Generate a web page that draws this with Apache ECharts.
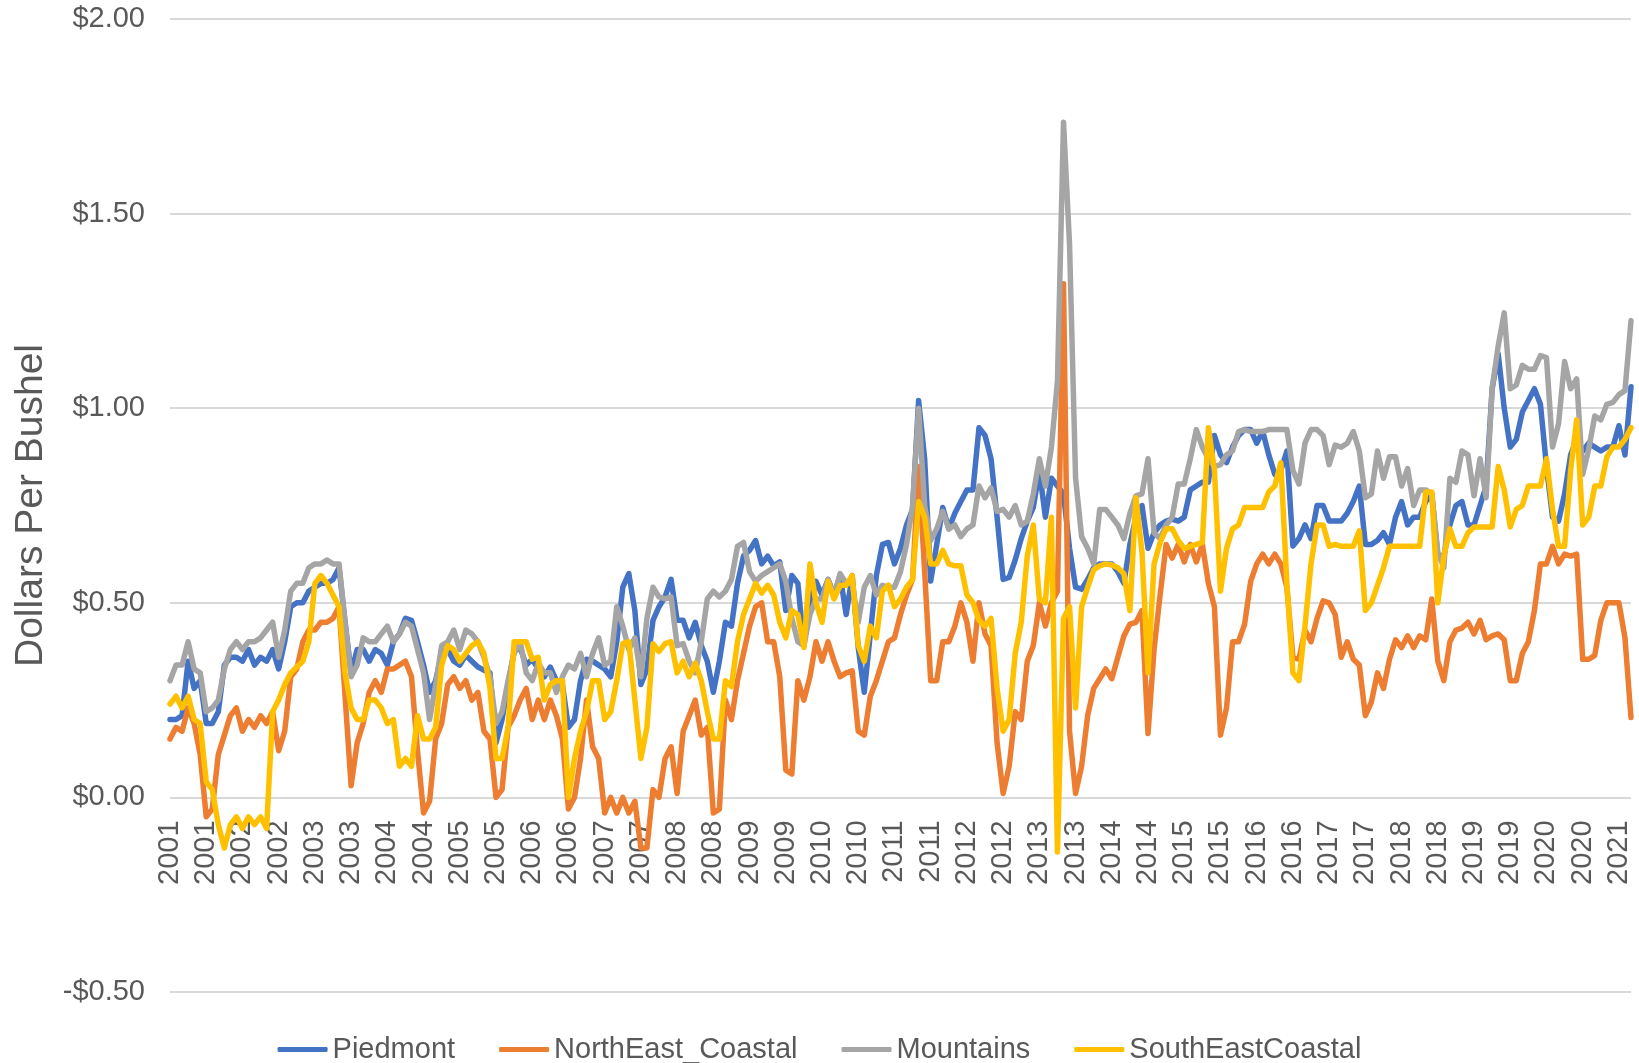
<!DOCTYPE html>
<html>
<head>
<meta charset="utf-8">
<title>Dollars Per Bushel</title>
<script src="https://cdn.jsdelivr.net/npm/echarts@6/dist/echarts.min.js"></script>
<style>
  html, body { margin: 0; padding: 0; background: #fff; }
  #main { width: 1639px; height: 1063px; }
</style>
</head>
<body>
<div id="main"></div>
<script>
// year labels for the category axis (monthly points, one label every 6 months)
const years = ['2001','2002','2003','2004','2005','2006','2007','2008','2009','2010','2011',
  '2012','2013','2014','2015','2016','2017','2018','2019','2020','2021'];

// monthly values, one row per year
const piedmont = [
  0.20,0.20,0.21,0.35,0.28,0.30,0.19,0.19,0.22,0.34,0.36,0.36,
  0.35,0.38,0.34,0.36,0.35,0.38,0.33,0.40,0.49,0.50,0.50,0.53,
  0.54,0.55,0.55,0.56,0.59,0.45,0.32,0.38,0.38,0.35,0.38,0.37,
  0.34,0.40,0.42,0.46,0.455,0.40,0.34,0.27,0.30,0.37,0.38,0.35,
  0.34,0.365,0.35,0.335,0.327,0.32,0.14,0.20,0.29,0.375,0.385,0.34,
  0.355,0.33,0.31,0.335,0.30,0.29,0.18,0.20,0.30,0.355,0.35,0.34,
  0.33,0.31,0.40,0.54,0.575,0.48,0.29,0.33,0.455,0.49,0.515,0.56,
  0.455,0.455,0.41,0.45,0.39,0.35,0.27,0.35,0.45,0.44,0.55,0.62,
  0.635,0.66,0.60,0.62,0.595,0.605,0.48,0.57,0.55,0.39,0.50,0.555,
  0.52,0.56,0.52,0.57,0.47,0.57,0.385,0.27,0.42,0.57,0.65,0.655,
  0.60,0.64,0.70,0.74,1.02,0.87,0.556,0.65,0.745,0.69,0.73,0.76,
  0.79,0.79,0.95,0.93,0.87,0.72,0.56,0.565,0.61,0.665,0.71,0.745,
  0.84,0.72,0.82,0.80,0.78,0.64,0.54,0.535,0.56,0.59,0.60,0.60,
  0.60,0.58,0.55,0.65,0.72,0.75,0.64,0.68,0.70,0.71,0.715,0.71,
  0.72,0.79,0.80,0.81,0.81,0.93,0.88,0.86,0.90,0.93,0.945,0.945,
  0.91,0.94,0.88,0.83,0.84,0.89,0.646,0.665,0.70,0.665,0.75,0.75,
  0.71,0.71,0.71,0.73,0.76,0.80,0.65,0.65,0.66,0.68,0.65,0.72,
  0.76,0.70,0.72,0.72,0.76,0.78,0.62,0.62,0.70,0.75,0.76,0.70,
  0.70,0.75,0.80,1.05,1.14,1.00,0.90,0.92,0.99,1.02,1.05,1.01,
  0.85,0.72,0.71,0.78,0.88,0.92,0.89,0.91,0.90,0.89,0.90,0.90,
  0.955,0.88,1.055
];

const northEastCoastal = [
  0.15,0.18,0.17,0.23,0.19,0.11,-0.05,-0.03,0.11,0.16,0.21,0.23,
  0.17,0.20,0.18,0.21,0.19,0.22,0.12,0.17,0.31,0.33,0.40,0.43,
  0.43,0.45,0.45,0.46,0.49,0.26,0.03,0.14,0.19,0.27,0.30,0.27,
  0.33,0.33,0.34,0.35,0.31,0.12,-0.04,-0.01,0.15,0.19,0.29,0.31,
  0.28,0.30,0.25,0.27,0.17,0.15,0.00,0.02,0.18,0.21,0.25,0.28,
  0.20,0.25,0.20,0.25,0.21,0.15,-0.03,0.00,0.10,0.25,0.13,0.10,
  -0.04,0.00,-0.04,0.00,-0.04,-0.01,-0.13,-0.13,0.02,0.00,0.10,0.13,
  0.01,0.17,0.21,0.25,0.16,0.18,-0.04,-0.03,0.25,0.20,0.30,0.37,
  0.44,0.49,0.50,0.40,0.40,0.31,0.07,0.06,0.30,0.25,0.31,0.40,
  0.35,0.40,0.35,0.31,0.32,0.325,0.17,0.16,0.26,0.30,0.35,0.40,
  0.41,0.47,0.52,0.56,0.85,0.58,0.30,0.30,0.40,0.40,0.44,0.50,
  0.45,0.35,0.50,0.42,0.39,0.14,0.01,0.08,0.22,0.20,0.35,0.39,
  0.50,0.44,0.50,0.53,1.32,0.17,0.01,0.08,0.21,0.28,0.305,0.33,
  0.305,0.36,0.415,0.445,0.45,0.48,0.164,0.38,0.52,0.65,0.615,0.65,
  0.605,0.65,0.605,0.65,0.55,0.49,0.16,0.23,0.40,0.40,0.445,0.555,
  0.60,0.625,0.60,0.625,0.60,0.54,0.36,0.355,0.43,0.40,0.46,0.505,
  0.50,0.47,0.36,0.40,0.355,0.34,0.21,0.245,0.32,0.28,0.355,0.405,
  0.385,0.415,0.385,0.415,0.405,0.51,0.35,0.30,0.40,0.43,0.435,0.45,
  0.42,0.455,0.405,0.415,0.42,0.405,0.30,0.30,0.37,0.40,0.48,0.60,
  0.60,0.645,0.60,0.625,0.62,0.625,0.355,0.355,0.365,0.455,0.50,0.50,
  0.50,0.41,0.205
];

const mountains = [
  0.30,0.34,0.34,0.40,0.33,0.32,0.22,0.23,0.25,0.33,0.38,0.40,
  0.38,0.40,0.40,0.41,0.43,0.45,0.36,0.43,0.53,0.55,0.55,0.59,
  0.60,0.60,0.61,0.60,0.60,0.45,0.31,0.34,0.41,0.40,0.40,0.42,
  0.44,0.40,0.42,0.45,0.44,0.38,0.32,0.20,0.29,0.39,0.40,0.43,
  0.38,0.43,0.42,0.40,0.36,0.31,0.19,0.22,0.30,0.37,0.40,0.32,
  0.30,0.345,0.32,0.32,0.27,0.31,0.34,0.33,0.37,0.31,0.37,0.41,
  0.34,0.35,0.49,0.44,0.38,0.41,0.31,0.46,0.54,0.515,0.51,0.515,
  0.39,0.395,0.35,0.32,0.40,0.51,0.53,0.515,0.53,0.56,0.645,0.655,
  0.58,0.555,0.57,0.58,0.59,0.60,0.555,0.46,0.40,0.39,0.47,0.51,
  0.51,0.56,0.52,0.575,0.55,0.55,0.45,0.54,0.57,0.52,0.545,0.54,
  0.54,0.58,0.65,0.75,1.00,0.75,0.66,0.69,0.735,0.69,0.70,0.67,
  0.69,0.70,0.80,0.77,0.795,0.735,0.74,0.72,0.75,0.70,0.71,0.78,
  0.87,0.80,0.90,1.07,1.735,1.42,0.82,0.67,0.64,0.60,0.74,0.74,
  0.72,0.70,0.665,0.73,0.775,0.78,0.87,0.68,0.665,0.70,0.72,0.805,
  0.805,0.87,0.945,0.90,0.87,0.85,0.855,0.88,0.89,0.94,0.945,0.94,
  0.94,0.94,0.945,0.945,0.945,0.945,0.84,0.805,0.91,0.945,0.945,0.93,
  0.855,0.905,0.90,0.91,0.94,0.89,0.77,0.78,0.89,0.82,0.875,0.875,
  0.80,0.845,0.75,0.79,0.79,0.78,0.63,0.59,0.82,0.81,0.89,0.88,
  0.775,0.87,0.77,1.05,1.16,1.245,1.05,1.06,1.11,1.10,1.10,1.135,
  1.13,0.90,0.96,1.12,1.05,1.075,0.83,0.895,0.98,0.97,1.01,1.015,
  1.035,1.045,1.225
];

const southEastCoastal = [
  0.24,0.26,0.23,0.26,0.20,0.19,0.04,0.02,-0.07,-0.13,-0.07,-0.05,
  -0.08,-0.05,-0.07,-0.05,-0.08,0.22,0.25,0.29,0.32,0.335,0.35,0.40,
  0.55,0.57,0.55,0.52,0.49,0.32,0.23,0.20,0.20,0.25,0.25,0.23,
  0.19,0.20,0.08,0.10,0.08,0.21,0.15,0.15,0.18,0.34,0.39,0.38,
  0.35,0.37,0.39,0.40,0.37,0.28,0.10,0.10,0.18,0.40,0.40,0.40,
  0.355,0.36,0.25,0.29,0.30,0.30,0.00,0.10,0.17,0.22,0.30,0.30,
  0.20,0.22,0.30,0.395,0.40,0.25,0.10,0.18,0.395,0.375,0.395,0.40,
  0.32,0.35,0.31,0.345,0.30,0.22,0.15,0.15,0.30,0.285,0.40,0.47,
  0.51,0.55,0.525,0.545,0.52,0.45,0.41,0.48,0.47,0.385,0.60,0.50,
  0.45,0.555,0.51,0.545,0.545,0.57,0.39,0.35,0.44,0.41,0.53,0.545,
  0.49,0.51,0.54,0.56,0.76,0.72,0.60,0.60,0.635,0.60,0.595,0.595,
  0.52,0.50,0.455,0.44,0.46,0.28,0.17,0.20,0.37,0.45,0.62,0.70,
  0.51,0.50,0.72,-0.14,0.46,0.49,0.23,0.49,0.54,0.585,0.595,0.60,
  0.597,0.59,0.575,0.48,0.77,0.63,0.32,0.60,0.655,0.69,0.69,0.66,
  0.64,0.645,0.65,0.655,0.95,0.84,0.53,0.64,0.69,0.70,0.745,0.745,
  0.745,0.745,0.785,0.80,0.86,0.55,0.32,0.30,0.44,0.60,0.70,0.70,
  0.645,0.65,0.645,0.645,0.645,0.685,0.48,0.50,0.545,0.59,0.645,0.645,
  0.645,0.645,0.645,0.645,0.785,0.785,0.50,0.62,0.69,0.645,0.645,0.68,
  0.695,0.695,0.695,0.695,0.85,0.79,0.695,0.74,0.75,0.80,0.80,0.80,
  0.87,0.74,0.645,0.645,0.84,0.97,0.70,0.72,0.80,0.80,0.875,0.90,
  0.90,0.92,0.95
];

// y axis ticks
const yMin = -0.5, yMax = 2.0, yStep = 0.5;

// each year label repeated for its 12 months, cut to the data length
const categories = years.flatMap(y => Array(12).fill(y)).slice(0, piedmont.length);

const textColor = '#595959';
const fontFamily = "'Liberation Sans', Arial, sans-serif";

// plot area (px)
const gridTop = 19, gridBottom = 71, chartHeight = 1063;
// category labels sit right under the $0.00 line, like Excel does
const plotHeight = chartHeight - gridTop - gridBottom;
const zeroOffset = -plotHeight * (0 - yMin) / (yMax - yMin);

function money(v) {
  return (v < 0 ? '-$' : '$') + Math.abs(v).toFixed(2);
}

function lineSeries(name, data, color) {
  return {
    name: name,
    type: 'line',
    data: data,
    showSymbol: false,
    symbol: 'none',
    color: color,
    lineStyle: { width: 5.5, color: color, cap: 'round', join: 'round' }
  };
}

const chart = echarts.init(document.getElementById('main'));
chart.setOption({
  animation: false,
  backgroundColor: '#fff',
  textStyle: { fontFamily: fontFamily },
  grid: { left: 170, right: 8, top: gridTop, bottom: gridBottom, outerBoundsMode: 'none', containLabel: false },
  legend: {
    top: 1030,
    left: 'center',
    icon: 'roundRect',
    itemWidth: 50,
    itemHeight: 5,
    itemGap: 44,
    textStyle: { color: textColor, fontSize: 29, fontFamily: fontFamily },
    data: ['Piedmont', 'NorthEast_Coastal', 'Mountains', 'SouthEastCoastal']
  },
  xAxis: {
    type: 'category',
    data: categories,
    boundaryGap: false,
    offset: zeroOffset,
    axisLine: { show: false, onZero: false },
    axisTick: { show: false },
    splitLine: { show: false },
    axisLabel: {
      interval: 5,
      rotate: 90,
      margin: 23,
      color: textColor,
      fontSize: 29,
      fontFamily: fontFamily
    }
  },
  yAxis: {
    type: 'value',
    min: yMin,
    max: yMax,
    interval: yStep,
    name: 'Dollars Per Bushel',
    nameLocation: 'middle',
    nameGap: 119,
    nameTextStyle: { color: textColor, fontSize: 39, fontFamily: fontFamily },
    axisLine: { show: false },
    axisTick: { show: false },
    axisLabel: { margin: 25, color: textColor, fontSize: 29, fontFamily: fontFamily, formatter: money },
    splitLine: { lineStyle: { color: '#d9d9d9', width: 2 } }
  },
  series: [
    lineSeries('Piedmont', piedmont, '#4472C4'),
    lineSeries('NorthEast_Coastal', northEastCoastal, '#ED7D31'),
    lineSeries('Mountains', mountains, '#A5A5A5'),
    lineSeries('SouthEastCoastal', southEastCoastal, '#FFC000')
  ]
});
</script>
</body>
</html>
